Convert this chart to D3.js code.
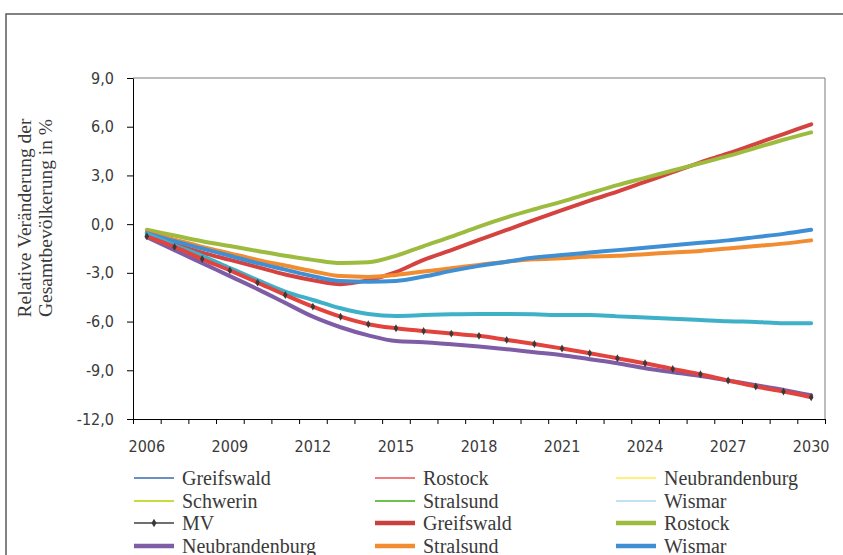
<!DOCTYPE html>
<html>
<head>
<meta charset="utf-8">
<script src="https://cdn.jsdelivr.net/npm/d3@7"></script>
<style>
body { margin: 0; background: #fff; }
svg { display: block; }
.tick text { font-family: 'DejaVu Sans Condensed', 'DejaVu Sans', sans-serif; font-stretch: condensed; font-size: 16px; fill: #3a3a3a; }
.legend text, .ytitle { font-family: 'Liberation Serif', 'DejaVu Serif', serif; fill: #3a3a3a; }
</style>
</head>
<body>
<svg id="chart" width="843" height="555"></svg>
<script>
var years = [2006, 2007, 2008, 2009, 2010, 2011, 2012, 2013, 2014, 2015, 2016, 2017, 2018,
             2019, 2020, 2021, 2022, 2023, 2024, 2025, 2026, 2027, 2028, 2029, 2030];
var yearLabels = [2006, 2009, 2012, 2015, 2018, 2021, 2024, 2027, 2030];
var yTicks = [-12, -9, -6, -3, 0, 3, 6, 9];

// relative change of population in %
var mv = [-0.75, -1.4, -2.15, -2.85, -3.6, -4.36, -5.08, -5.7, -6.16, -6.41, -6.58, -6.74, -6.88,
          -7.13, -7.38, -7.66, -7.95, -8.26, -8.57, -8.92, -9.24, -9.63, -10.0, -10.31, -10.66];
var greifswald = [-0.75, -1.25, -1.75, -2.2, -2.65, -3.1, -3.45, -3.7, -3.45, -2.95, -2.2, -1.6, -0.97,
                  -0.36, 0.26, 0.87, 1.45, 2.0, 2.6, 3.2, 3.8, 4.35, 4.95, 5.55, 6.15];
var rostock = [-0.35, -0.7, -1.05, -1.35, -1.65, -1.95, -2.2, -2.4, -2.35, -1.95, -1.35, -0.77, -0.15,
               0.42, 0.92, 1.39, 1.9, 2.4, 2.85, 3.3, 3.75, 4.2, 4.7, 5.2, 5.65];
var neubrandenburg = [-0.8, -1.6, -2.4, -3.2, -4.0, -4.85, -5.7, -6.35, -6.85, -7.2, -7.27, -7.4, -7.54,
                      -7.7, -7.89, -8.07, -8.32, -8.57, -8.87, -9.12, -9.35, -9.63, -9.92, -10.21, -10.54];
var stralsund = [-0.5, -0.95, -1.4, -1.8, -2.2, -2.55, -2.9, -3.2, -3.25, -3.13, -2.92, -2.72, -2.51,
                 -2.31, -2.16, -2.1, -2.0, -1.95, -1.85, -1.75, -1.65, -1.5, -1.35, -1.2, -1.0];
var wismar = [-0.55, -1.05, -1.5, -1.95, -2.4, -2.8, -3.2, -3.5, -3.55, -3.5, -3.23, -2.88, -2.57,
              -2.31, -2.06, -1.9, -1.75, -1.6, -1.45, -1.3, -1.15, -1.0, -0.8, -0.6, -0.35];
var schwerin = [-0.6, -1.3, -1.95, -2.7, -3.44, -4.15, -4.67, -5.18, -5.53, -5.65, -5.6, -5.55, -5.53,
                -5.53, -5.55, -5.6, -5.6, -5.68, -5.75, -5.82, -5.9, -5.98, -6.02, -6.1, -6.1];

var thickLines = [
    {name: 'Greifswald', values: greifswald, color: '#d4433f'},
    {name: 'Rostock', values: rostock, color: '#9dbb3e'},
    {name: 'Neubrandenburg', values: neubrandenburg, color: '#7e5da6'},
    {name: 'Stralsund', values: stralsund, color: '#f28c30'},
    {name: 'Wismar', values: wismar, color: '#3f8fd5'},
    {name: 'Schwerin', values: schwerin, color: '#3eb0c8'},
    {name: 'MV', values: mv, color: '#e2443d'}
];

var legendItems = [
    {name: 'Greifswald', color: '#6c8ec6', w: 2},
    {name: 'Rostock', color: '#f07c7c', w: 2},
    {name: 'Neubrandenburg', color: '#fff07a', w: 2},
    {name: 'Schwerin', color: '#c8dc3c', w: 2},
    {name: 'Stralsund', color: '#6cc24a', w: 2},
    {name: 'Wismar', color: '#bfe3f5', w: 2},
    {name: 'MV', color: '#404040', w: 1.5, marker: true},
    {name: 'Greifswald', color: '#c9403c', w: 4.5},
    {name: 'Rostock', color: '#9dbb3e', w: 4.5},
    {name: 'Neubrandenburg', color: '#7e5da6', w: 4.5},
    {name: 'Stralsund', color: '#f28c30', w: 4.5},
    {name: 'Wismar', color: '#3f8fd5', w: 4.5},
    {name: 'Schwerin', color: '#3eb0c8', w: 4.5}
];

var plotLeft = 133, plotRight = 825, plotTop = 78, plotBottom = 419;
var svg = d3.select('#chart');

// outer chart frame (runs past the window)
svg.append('rect')
    .attr('x', 6).attr('y', 14)
    .attr('width', 900).attr('height', 600)
    .style('fill', 'none').style('stroke', '#5a5a5a').style('stroke-width', 1.5);

var x = d3.scaleBand().domain(years).range([plotLeft, plotRight]);
var xEdge = d3.scaleLinear().domain([0, years.length]).range([plotLeft, plotRight]);
var y = d3.scaleLinear().domain([-12, 9]).range([plotBottom, plotTop]);

function fmt(v) {
    return v.toFixed(1).replace('.', ',');
}

// plot area border (top and right)
svg.append('path')
    .attr('d', 'M' + plotLeft + ',' + plotTop + 'H' + plotRight + 'V' + plotBottom)
    .style('fill', 'none').style('stroke', '#7a7a7a').style('stroke-width', 1);

// y axis
svg.append('g')
    .attr('transform', 'translate(' + plotLeft + ',0)')
    .call(d3.axisLeft(y).tickValues(yTicks).tickFormat(fmt).tickSize(6).tickPadding(13).tickSizeOuter(0))
    .call(function (g) {
        g.select('.domain').style('stroke', '#000');
        g.selectAll('.tick line').style('stroke', '#000');
    });

// x axis: tick marks between categories
svg.append('g')
    .attr('transform', 'translate(0,' + plotBottom + ')')
    .call(d3.axisBottom(xEdge).tickValues(d3.range(0, years.length + 1)).tickFormat('').tickSize(5).tickSizeOuter(0))
    .call(function (g) {
        g.select('.domain').style('stroke', '#000');
        g.selectAll('.tick line').style('stroke', '#000');
    });

// x axis labels
svg.append('g')
    .attr('transform', 'translate(0,' + plotBottom + ')')
    .call(d3.axisBottom(x).tickValues(yearLabels).tickSize(0).tickPadding(22))
    .call(function (g) { g.select('.domain').remove(); });

// y axis title
var title = svg.append('text')
    .attr('class', 'ytitle')
    .attr('transform', 'translate(33,218) rotate(-90)')
    .attr('text-anchor', 'middle')
    .style('font-size', '19.5px');
title.append('tspan').attr('x', 0).attr('dy', '-0.1em').text('Relative Veränderung der');
title.append('tspan').attr('x', 0).attr('dy', '1.05em').text('Gesamtbevölkerung in %');

// lines
var line = d3.line()
    .x(function (d, i) { return x(years[i]) + x.bandwidth() / 2; })
    .y(function (d) { return y(d); })
    .curve(d3.curveMonotoneX);

svg.append('g').selectAll('path')
    .data(thickLines)
    .enter()
    .append('path')
    .attr('d', function (d) { return line(d.values); })
    .style('fill', 'none')
    .style('stroke', function (d) { return d.color; })
    .style('stroke-width', 4)
    .style('stroke-linejoin', 'round')
    .style('stroke-linecap', 'round');

// MV markers
svg.append('g').selectAll('path')
    .data(mv)
    .enter()
    .append('path')
    .attr('d', d3.symbol().type(d3.symbolDiamond).size(18))
    .attr('transform', function (d, i) {
        return 'translate(' + (x(years[i]) + x.bandwidth() / 2) + ',' + y(d) + ')';
    })
    .style('fill', '#3a3a3a');

// legend
var colX = [182, 423, 664], rowY = [478, 501, 523, 546, 569];
var items = svg.append('g').classed('legend', true)
    .selectAll('g')
    .data(legendItems)
    .enter()
    .append('g')
    .attr('transform', function (d, i) {
        return 'translate(' + colX[i % 3] + ',' + rowY[Math.floor(i / 3)] + ')';
    });

items.append('line')
    .attr('x1', -48).attr('x2', -8)
    .style('stroke', function (d) { return d.color; })
    .style('stroke-width', function (d) { return d.w; });

items.filter(function (d) { return d.marker; })
    .append('path')
    .attr('d', d3.symbol().type(d3.symbolDiamond).size(22))
    .attr('transform', 'translate(-28,0)')
    .style('fill', '#3a3a3a');

items.append('text')
    .attr('dy', '0.33em')
    .style('font-size', '20px')
    .text(function (d) { return d.name; });
</script>
</body>
</html>
